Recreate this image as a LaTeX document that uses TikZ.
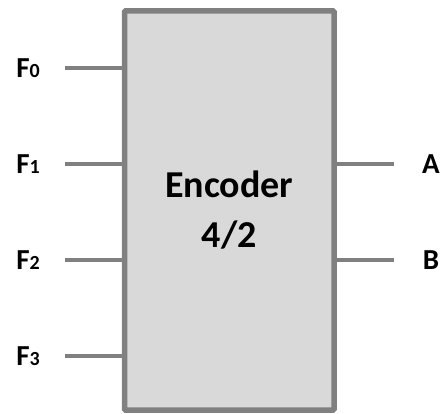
\documentclass[tikz,border=0pt]{standalone}
\usepackage{fontspec}
\setmainfont{Carlito}
\begin{document}
\begin{tikzpicture}[x=1pt,y=-1pt,
  encbox/.style={draw=boxgray,fill=boxfill,line width=5.5pt,rounded corners=1pt,
    minimum width=209.5pt,minimum height=399pt,inner sep=0pt,align=center,
    font=\bfseries\fontsize{38}{50}\selectfont},
  pinlabel/.style={inner sep=0pt,font=\bfseries\fontsize{29}{30}\selectfont},
  wire/.style={draw=boxgray,line width=4pt}]
\definecolor{boxgray}{HTML}{808080}
\definecolor{boxfill}{HTML}{D9D9D9}
\useasboundingbox (0,0) rectangle (442,414);
\node[encbox] (enc) at (229.25,210.5) {Encoder\\4/2};
\newcommand{\sub}[1]{{\fontsize{20}{20}\selectfont #1}}
\node[pinlabel] (l0) at (28,68.5) {F\sub{0}};
\node[pinlabel] (l1) at (28,164) {F\sub{1}};
\node[pinlabel] (l2) at (28,260) {F\sub{2}};
\node[pinlabel] (l3) at (28,356) {F\sub{3}};
\node[pinlabel] (la) at (431,164) {A};
\node[pinlabel] (lb) at (431,260) {B};
\coordinate (c0) at (65,68.5);
\coordinate (c1) at (65,164);
\coordinate (c2) at (65,260);
\coordinate (c3) at (65,356);
\coordinate (ca) at (394,164);
\coordinate (cb) at (394,260);
\draw[wire] (c0) -- (c0 -| enc.west);
\draw[wire] (c1) -- (c1 -| enc.west);
\draw[wire] (c2) -- (c2 -| enc.west);
\draw[wire] (c3) -- (c3 -| enc.west);
\draw[wire] (ca) -- (ca -| enc.east);
\draw[wire] (cb) -- (cb -| enc.east);
\end{tikzpicture}
\end{document}
